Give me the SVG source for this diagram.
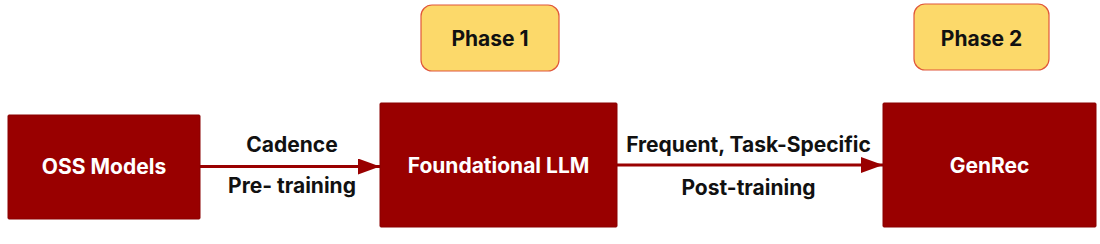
<svg xmlns="http://www.w3.org/2000/svg" width="1100" height="244" viewBox="0 0 1100 244">
<style>
.node{fill:#990000;stroke:#8a0000;stroke-width:1}
.phase{fill:#FCD96A;stroke:#E0573A;stroke-width:1.2}
.nt{font-family:Inter,"Liberation Sans",sans-serif;font-weight:700;font-size:21px;fill:#ffffff;text-anchor:middle}
.pt{font-family:Inter,"Liberation Sans",sans-serif;font-weight:700;font-size:21px;fill:#111111;text-anchor:middle}
.lt{font-family:Inter,"Liberation Sans",sans-serif;font-weight:700;font-size:21px;fill:#111111;text-anchor:middle}
.edge{stroke:#990000;stroke-width:3;fill:none}
</style>
<defs>
<marker id="ah" viewBox="0 0 22 16" refX="22" refY="8" markerWidth="22" markerHeight="16" markerUnits="userSpaceOnUse" orient="auto">
<path d="M0,0 L22,8 L0,16 Z" fill="#990000"/>
</marker>
</defs>
<rect width="1100" height="244" fill="#ffffff"/>
<g id="connectors">
<line class="edge" x1="200" y1="166.5" x2="380" y2="166.5" marker-end="url(#ah)"/>
<line class="edge" x1="617" y1="165" x2="883" y2="165" marker-end="url(#ah)"/>
<text class="lt" x="292" y="152">Cadence</text>
<text class="lt" x="292" y="193">Pre- training</text>
<text class="lt" x="748.5" y="152">Frequent, Task-Specific</text>
<text class="lt" x="748.5" y="195">Post-training</text>
</g>
<g id="phase1">
<rect class="phase" x="421" y="5" width="138" height="66" rx="11"/>
<text class="pt" x="490" y="46">Phase 1</text>
</g>
<g id="phase2">
<rect class="phase" x="914" y="4" width="135" height="66" rx="11"/>
<text class="pt" x="981.5" y="46">Phase 2</text>
</g>
<g id="oss">
<rect class="node" x="8" y="115" width="192" height="104" rx="1"/>
<text class="nt" x="104" y="174">OSS Models</text>
</g>
<g id="foundational">
<rect class="node" x="380" y="103" width="237" height="124" rx="1"/>
<text class="nt" x="498.5" y="173">Foundational LLM</text>
</g>
<g id="genrec">
<rect class="node" x="883" y="103" width="213" height="124" rx="1"/>
<text class="nt" x="989.5" y="173">GenRec</text>
</g>
</svg>
